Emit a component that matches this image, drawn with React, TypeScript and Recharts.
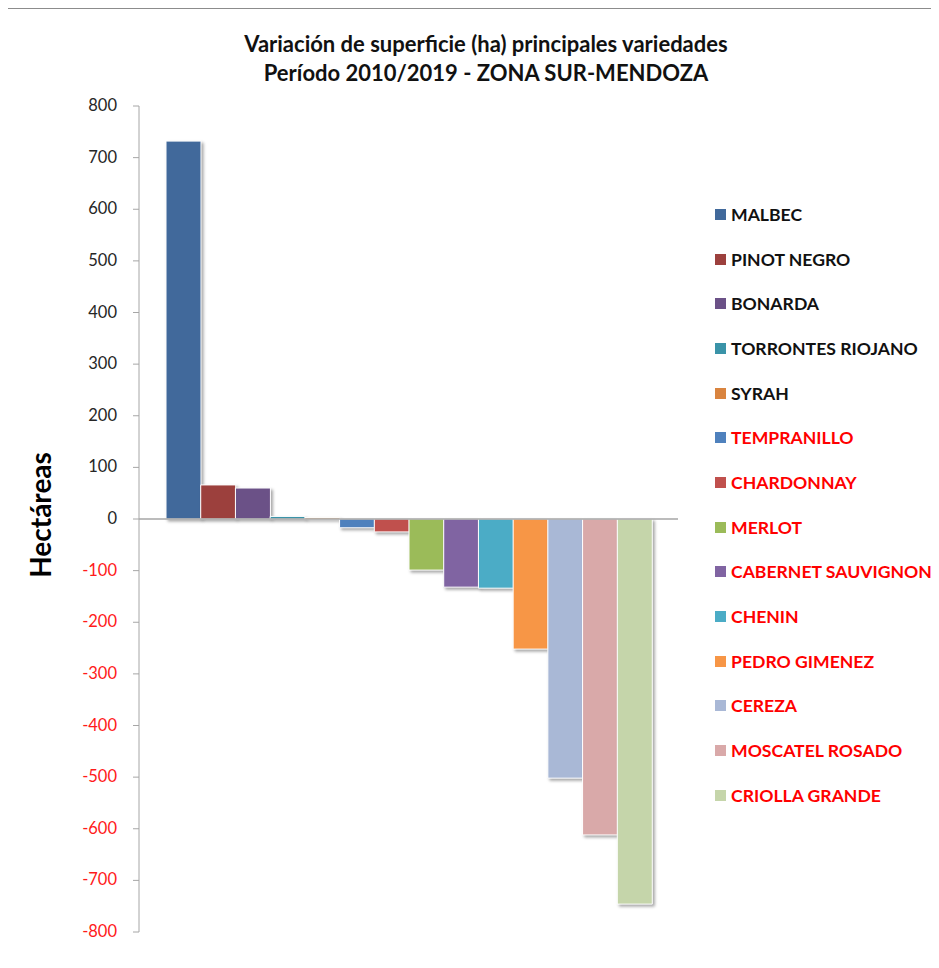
import { BarChart, Bar, XAxis, YAxis, Cell, ReferenceLine } from 'recharts';

const VARIEDADES = [
  'MALBEC', 'PINOT NEGRO', 'BONARDA', 'TORRONTES RIOJANO', 'SYRAH', 'TEMPRANILLO', 'CHARDONNAY',
  'MERLOT', 'CABERNET SAUVIGNON', 'CHENIN', 'PEDRO GIMENEZ', 'CEREZA', 'MOSCATEL ROSADO', 'CRIOLLA GRANDE',
];
const VARIACION = [732, 66, 60, 5, 3, -17, -25, -99, -132, -134, -252, -502, -612, -746];
const COLORES = [
  '#41699b', '#9c403d', '#6b5187', '#3a93a8', '#d9843f', '#4f81bd', '#c0504d',
  '#9bbb59', '#8064a2', '#4bacc6', '#f79646', '#a9b8d6', '#d9a9a9', '#c5d5aa',
];
const Y_TICKS = [800, 700, 600, 500, 400, 300, 200, 100, 0, -100, -200, -300, -400, -500, -600, -700, -800];

const FONT = 'Lato, "Open Sans", sans-serif';

const data = VARIEDADES.map((name, i) => ({ name, value: VARIACION[i] }));

const YTick = (props: any) => {
  const { x, y, payload } = props;
  const v = payload.value;
  return (
    <text x={x} y={y} dy={5} textAnchor="end" fontSize={16.5} fontFamily={FONT}
      fill={v < 0 ? '#ff1a1a' : '#262626'}>
      {v}
    </text>
  );
};

export default function App() {
  return (
    <div style={{ position: 'relative', width: 939, height: 968, margin: -8, background: '#fff', overflow: 'hidden', fontFamily: FONT }}>
      <div style={{ position: 'absolute', left: 4, top: 7, width: 960, height: 990, borderLeft: '2px solid #8c8c8c', borderTop: '2px solid #8c8c8c' }} />
      <div style={{ position: 'absolute', left: 0, width: 972, top: 29, textAlign: 'center', fontWeight: 700, fontSize: 22, lineHeight: '29px', color: '#111' }}>
        Variación de superficie (ha) principales variedades<br />
        Período 2010/2019 - ZONA SUR-MENDOZA
      </div>
      <div style={{ position: 'absolute', left: 40, top: 515, transform: 'translate(-50%, -50%) rotate(-90deg)', fontWeight: 700, fontSize: 28, color: '#000', whiteSpace: 'nowrap' }}>
        Hectáreas
      </div>
      <div style={{ position: 'absolute', left: 0, top: 0 }}>
        <BarChart width={939} height={968} data={data} margin={{ top: 106, right: 261, bottom: 36, left: 79 }} barCategoryGap={0}>
          <XAxis dataKey="name" hide padding={{ left: 27, right: 26 }} />
          <YAxis domain={[-800, 800]} ticks={Y_TICKS} interval={0} width={60} tick={<YTick />}
            tickSize={6} tickMargin={16} axisLine={{ stroke: '#a6a6a6' }} tickLine={{ stroke: '#a6a6a6' }} />
          <Bar dataKey="value" isAnimationActive={false} stroke="#ffffff" strokeWidth={1}>
            {data.map((_, i) => (
              <Cell key={i} fill={COLORES[i]} style={{ filter: 'drop-shadow(2px 2px 1.5px rgba(0,0,0,0.35))' }} />
            ))}
          </Bar>
          <ReferenceLine y={0} stroke="#a6a6a6" strokeWidth={1.5} />
        </BarChart>
      </div>
      <div style={{ position: 'absolute', left: 715, top: 192 }}>
        {VARIEDADES.map((name, i) => (
          <div key={name} style={{ display: 'flex', alignItems: 'center', height: 44.7 }}>
            <span style={{ width: 11, height: 11, background: COLORES[i], marginRight: 5, display: 'inline-block' }} />
            <span style={{ fontWeight: 700, fontSize: 17.6, color: VARIACION[i] < 0 ? '#ff0000' : '#111', whiteSpace: 'nowrap' }}>{name}</span>
          </div>
        ))}
      </div>
    </div>
  );
}
